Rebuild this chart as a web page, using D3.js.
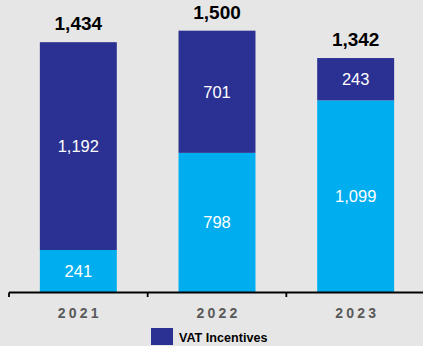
<!DOCTYPE html>
<html>
<head>
<meta charset="utf-8">
<script src="https://cdn.jsdelivr.net/npm/d3@7"></script>
<style>
  html, body { margin: 0; padding: 0; background: #e7e6e6; }
  svg { display: block; font-family: "Liberation Sans", Arial, sans-serif; }
</style>
</head>
<body>
<div id="container"></div>
<script>
// data
const years = ["2021", "2022", "2023"];
const baseValues = [241, 798, 1099];   // light blue segment
const vatValues = [1192, 701, 243];    // VAT Incentives (dark blue)
const totals = [1434, 1500, 1342];

const width = 423, height = 346;
const lightBlue = "#00aeef", darkBlue = "#2b3192";

const svg = d3.select("#container")
  .append("svg")
  .attr("width", width)
  .attr("height", height);

svg.append("rect").attr("width", width).attr("height", height).attr("fill", "#e7e6e6");

const x = d3.scaleBand()
  .domain(years)
  .range([9, 425])
  .paddingInner(0.445)
  .paddingOuter(0.2225);

const y = d3.scaleLinear()
  .domain([0, 1500])
  .range([292, 30.5]);

const rows = years.map((yr, i) => ({
  year: yr, base: baseValues[i], vat: vatValues[i], total: totals[i]
}));

// light blue bottom segments
svg.selectAll(".base")
  .data(rows)
  .join("rect")
  .attr("class", "base")
  .attr("x", d => x(d.year))
  .attr("width", x.bandwidth())
  .attr("y", d => y(d.base))
  .attr("height", d => y(0) - y(d.base))
  .attr("fill", lightBlue);

// dark blue top segments
svg.selectAll(".vat")
  .data(rows)
  .join("rect")
  .attr("class", "vat")
  .attr("x", d => x(d.year))
  .attr("width", x.bandwidth())
  .attr("y", d => y(d.base + d.vat))
  .attr("height", d => y(d.base) - y(d.base + d.vat))
  .attr("fill", darkBlue);

const fmt = d3.format(",");

// segment labels
svg.selectAll(".baseLabel")
  .data(rows)
  .join("text")
  .attr("x", d => x(d.year) + x.bandwidth() / 2)
  .attr("y", d => (y(0) + y(d.base)) / 2)
  .attr("dy", "0.36em")
  .attr("text-anchor", "middle")
  .attr("fill", "#fff")
  .attr("font-size", 16.5)
  .text(d => fmt(d.base));

svg.selectAll(".vatLabel")
  .data(rows)
  .join("text")
  .attr("x", d => x(d.year) + x.bandwidth() / 2)
  .attr("y", d => (y(d.base) + y(d.base + d.vat)) / 2)
  .attr("dy", "0.36em")
  .attr("text-anchor", "middle")
  .attr("fill", "#fff")
  .attr("font-size", 16.5)
  .text(d => fmt(d.vat));

// totals on top
svg.selectAll(".totalLabel")
  .data(rows)
  .join("text")
  .attr("x", d => x(d.year) + x.bandwidth() / 2)
  .attr("y", d => y(d.total) - 12)
  .attr("text-anchor", "middle")
  .attr("fill", "#000")
  .attr("font-size", 19)
  .attr("font-weight", "bold")
  .text(d => fmt(d.total));

// x axis: baseline with ticks at band boundaries
const axisY = 292.5;
svg.append("line")
  .attr("x1", 9).attr("x2", width)
  .attr("y1", axisY).attr("y2", axisY)
  .attr("stroke", "#000").attr("stroke-width", 1.8);

const bounds = years.map(yr => x(yr) - x.step() * x.paddingInner() / 2);
svg.selectAll(".tick")
  .data(bounds)
  .join("line")
  .attr("x1", d => d).attr("x2", d => d)
  .attr("y1", axisY).attr("y2", axisY + 4.5)
  .attr("stroke", "#000").attr("stroke-width", 1.8);

svg.selectAll(".yearLabel")
  .data(rows)
  .join("text")
  .attr("x", d => x(d.year) + x.bandwidth() / 2 + 1.5)
  .attr("y", 318)
  .attr("text-anchor", "middle")
  .attr("fill", "#595959")
  .attr("font-size", 14)
  .attr("font-weight", "bold")
  .attr("letter-spacing", 3.2)
  .text(d => d.year);

// legend
svg.append("rect")
  .attr("x", 151).attr("y", 328)
  .attr("width", 22).attr("height", 17)
  .attr("fill", darkBlue);

svg.append("text")
  .attr("x", 179).attr("y", 342)
  .attr("fill", "#000")
  .attr("font-size", 12.6)
  .attr("font-weight", "bold")
  .text("VAT Incentives");
</script>
</body>
</html>
